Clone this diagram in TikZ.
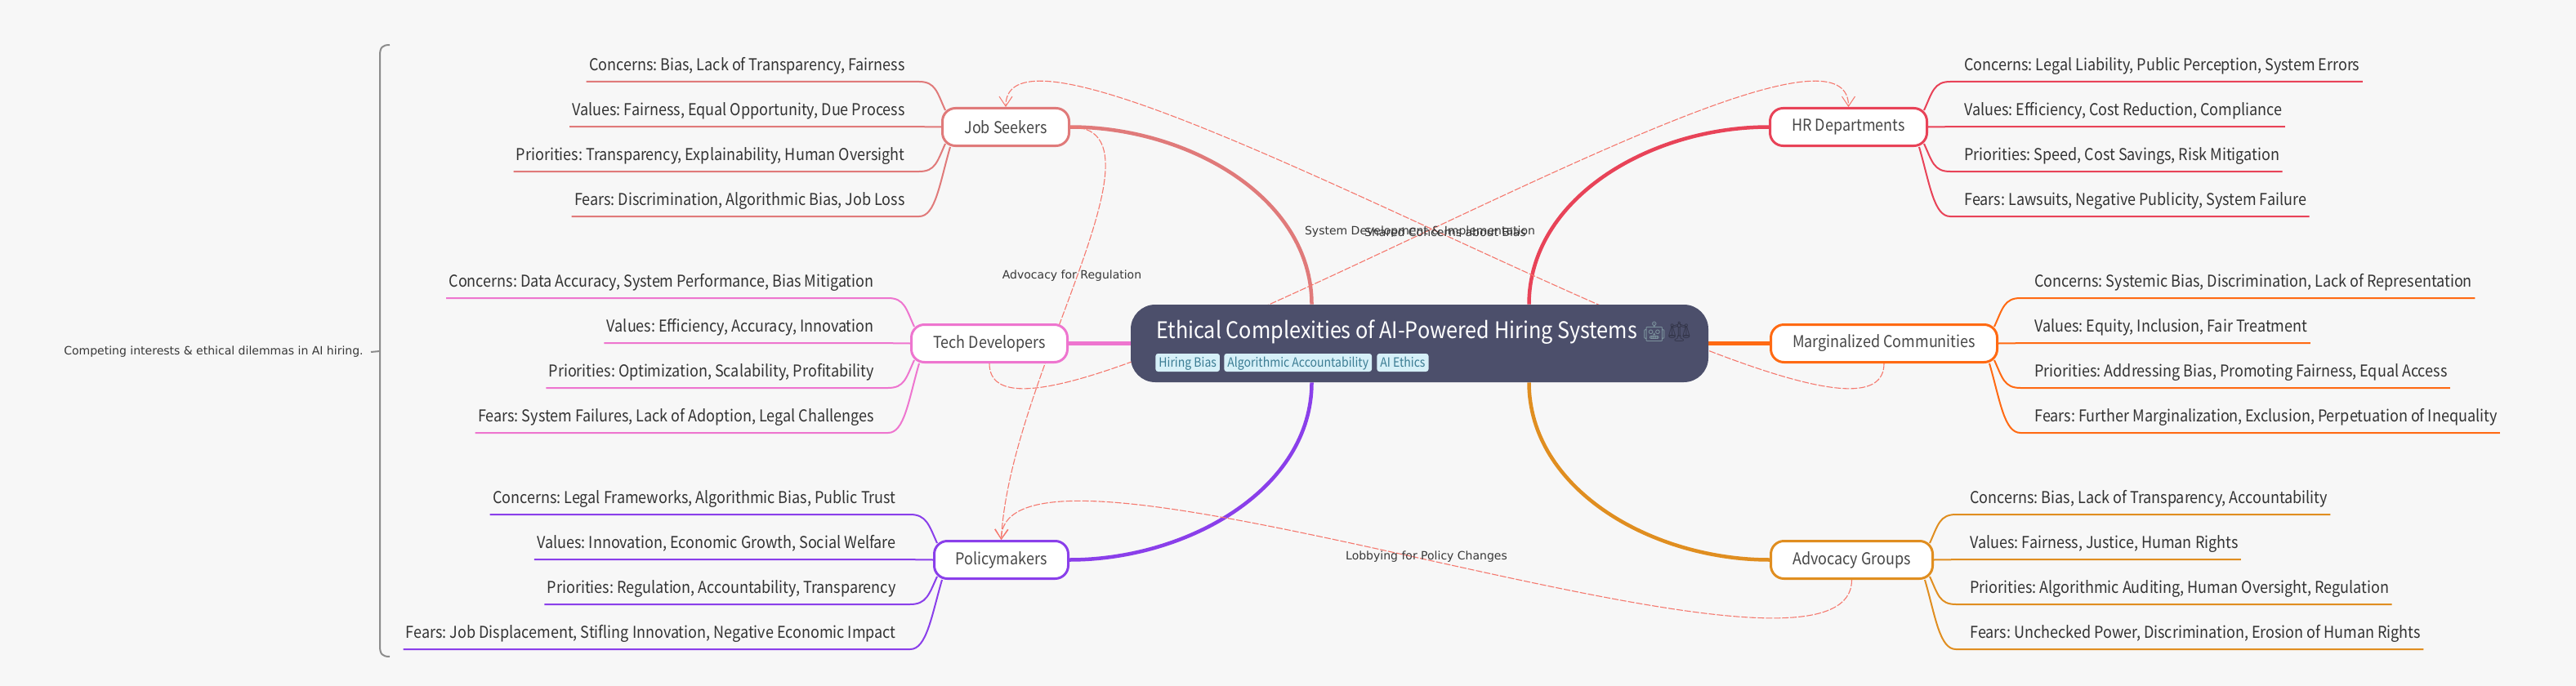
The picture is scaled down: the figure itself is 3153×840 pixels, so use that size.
\documentclass[tikz,border=0pt]{standalone}
\usepackage{fontspec}
\usepackage{xcolor}
\setmainfont[FakeStretch=0.9]{Noto Sans CJK SC}
\newfontfamily\notefont{DejaVu Sans}
\newfontfamily\emojifont{Noto Emoji}
\frenchspacing
\usetikzlibrary{arrows.meta, backgrounds}
\definecolor{pagebg}{HTML}{F7F7F7}
\definecolor{rootbg}{HTML}{4C4F6B}
\definecolor{tagbg}{HTML}{D6F0F8}
\definecolor{tagfg}{HTML}{3B7C93}
\definecolor{linkred}{HTML}{F5786E}
\definecolor{jobcol}{HTML}{E07A7A}
\definecolor{techcol}{HTML}{EE75CF}
\definecolor{policycol}{HTML}{8A3FEA}
\definecolor{hrcol}{HTML}{E84358}
\definecolor{margcol}{HTML}{FF6A13}
\definecolor{advcol}{HTML}{E08E20}
\tikzstyle{rootbox} = [rectangle, rounded corners=15pt, minimum width=353.5pt, minimum height=47.5pt, fill=rootbg]
\tikzstyle{roottext} = [anchor=west, inner sep=0pt, text=white, font=\fontsize{14pt}{16pt}\selectfont]
\tikzstyle{tag} = [anchor=west, rectangle, rounded corners=1.5pt, inner xsep=2pt, inner ysep=2pt, text height=6pt, text depth=1pt, fill=tagbg, text=tagfg, font=\fontsize{7.8pt}{9pt}\selectfont]
\tikzstyle{groupbox} = [rectangle, rounded corners=8pt, minimum height=23pt, line width=1.5pt, fill=white, text=black!72, font=\fontsize{10pt}{12pt}\selectfont]
\tikzstyle{leaf} = [inner ysep=0pt, inner xsep=1.5pt, text height=8pt, text depth=6.5pt, text=black!80, font=\fontsize{10pt}{12pt}\selectfont]
\tikzstyle{leafl} = [leaf, anchor=south east]
\tikzstyle{leafr} = [leaf, anchor=south west]
\tikzstyle{branch} = [line width=2.25pt]
\tikzstyle{twig} = [line width=1pt]
\tikzstyle{link} = [line width=0.55pt, linkred, dash pattern=on 4pt off 1pt]
\tikzstyle{linkarrow} = [link, -{Straight Barb[length=6pt, width=8pt, line width=0.5pt]}]
\tikzstyle{note} = [inner sep=0pt, text=black!78, font=\notefont\fontsize{7pt}{8pt}\selectfont]

\begin{document}
\begin{tikzpicture}[x=0.5pt, y=-0.5pt]
\useasboundingbox (0,0) rectangle (3153,840);

\node (root) [rootbox] at (1737.5,420.5) {};
\node (title) [roottext] at (1415,406.5) {Ethical Complexities of AI-Powered Hiring Systems {\emojifont\fontsize{12pt}{14pt}\selectfont\textcolor[HTML]{7F97A0}{^^^^^^01f916}\textcolor[HTML]{34364A}{^^^^2696}}};
\node (tag1) [tag] at (1414,444) {Hiring Bias};
\node (tag2) [tag] at (1498,444) {Algorithmic Accountability};
\node (tag3) [tag] at (1685,444) {AI Ethics};

\node (job) [groupbox, draw=jobcol, minimum width=77.5pt] at (1231,155.5) {Job Seekers};
\node (tech) [groupbox, draw=techcol, minimum width=95.5pt] at (1211,420.5) {Tech Developers};
\node (policy) [groupbox, draw=policycol, minimum width=82pt] at (1225.5,685.5) {Policymakers};
\node (hr) [groupbox, draw=hrcol, minimum width=96pt] at (2262.5,155.5) {HR Departments};
\node (marg) [groupbox, draw=margcol, minimum width=138.5pt] at (2306,420.5) {Marginalized Communities};
\node (adv) [groupbox, draw=advcol, minimum width=99pt] at (2266.5,685.5) {Advocacy Groups};

\node (job1) [leafl] at (1111,100) {Concerns: Bias, Lack of Transparency, Fairness};
\node (job2) [leafl] at (1111,155) {Values: Fairness, Equal Opportunity, Due Process};
\node (job3) [leafl] at (1111,210) {Priorities: Transparency, Explainability, Human Oversight};
\node (job4) [leafl] at (1111,265) {Fears: Discrimination, Algorithmic Bias, Job Loss};

\node (tech1) [leafl] at (1073,365) {Concerns: Data Accuracy, System Performance, Bias Mitigation};
\node (tech2) [leafl] at (1073,420) {Values: Efficiency, Accuracy, Innovation};
\node (tech3) [leafl] at (1073,475) {Priorities: Optimization, Scalability, Profitability};
\node (tech4) [leafl] at (1073,530) {Fears: System Failures, Lack of Adoption, Legal Challenges};

\node (policy1) [leafl] at (1100,630) {Concerns: Legal Frameworks, Algorithmic Bias, Public Trust};
\node (policy2) [leafl] at (1100,685) {Values: Innovation, Economic Growth, Social Welfare};
\node (policy3) [leafl] at (1100,740) {Priorities: Regulation, Accountability, Transparency};
\node (policy4) [leafl] at (1100,795) {Fears: Job Displacement, Stifling Innovation, Negative Economic Impact};

\node (hr1) [leafr] at (2401,100) {Concerns: Legal Liability, Public Perception, System Errors};
\node (hr2) [leafr] at (2401,155) {Values: Efficiency, Cost Reduction, Compliance};
\node (hr3) [leafr] at (2401,210) {Priorities: Speed, Cost Savings, Risk Mitigation};
\node (hr4) [leafr] at (2401,265) {Fears: Lawsuits, Negative Publicity, System Failure};

\node (marg1) [leafr] at (2487,365) {Concerns: Systemic Bias, Discrimination, Lack of Representation};
\node (marg2) [leafr] at (2487,420) {Values: Equity, Inclusion, Fair Treatment};
\node (marg3) [leafr] at (2487,475) {Priorities: Addressing Bias, Promoting Fairness, Equal Access};
\node (marg4) [leafr] at (2487,530) {Fears: Further Marginalization, Exclusion, Perpetuation of Inequality};

\node (adv1) [leafr] at (2408,630) {Concerns: Bias, Lack of Transparency, Accountability};
\node (adv2) [leafr] at (2408,685) {Values: Fairness, Justice, Human Rights};
\node (adv3) [leafr] at (2408,740) {Priorities: Algorithmic Auditing, Human Oversight, Regulation};
\node (adv4) [leafr] at (2408,795) {Fears: Unchecked Power, Discrimination, Erosion of Human Rights};

\node (sumnote) [note, anchor=east, inner xsep=4.5pt] at (454,431) {Competing interests \& ethical dilemmas in AI hiring.};
\coordinate (bracetop) at (477,55);
\coordinate (bracemid) at (465,430);
\coordinate (bracebot) at (477,804);

\begin{scope}[on background layer]
\fill [pagebg] (0,0) rectangle (3153,840);

\draw [branch, jobcol] (job.east) .. controls +(145,0) and +(0,-130) .. ([xshift=-66pt]root.north);
\draw [branch, techcol] (tech.east) -- (root.west);
\draw [branch, policycol] (policy.east) .. controls +(145,0) and +(0,130) .. ([xshift=-66pt]root.south);
\draw [branch, hrcol] (hr.west) .. controls +(-145,0) and +(0,-130) .. ([xshift=67pt]root.north);
\draw [branch, margcol] (marg.west) -- (root.east);
\draw [branch, advcol] (adv.west) .. controls +(-145,0) and +(0,130) .. ([xshift=67pt]root.south);

\foreach \name/\col in {job/jobcol, tech/techcol, policy/policycol} {
\draw [twig, \col] (\name1.south west) -- (\name1.south east) -- ++(14,0) .. controls +(20,0) and +(-10,-22) .. ([shift={(5,4)}]\name.north west);
\draw [twig, \col] (\name2.south west) -- (\name2.south east) -- (\name.west);
\draw [twig, \col] (\name3.south west) -- (\name3.south east) -- ++(14,0) .. controls +(20,0) and +(-10,22) .. ([shift={(5,-4)}]\name.south west);
\draw [twig, \col] (\name4.south west) -- (\name4.south east) -- ++(14,0) .. controls +(20,0) and +(-13,45) .. ([xshift=5.5pt]\name.south west);
}
\foreach \name/\col in {hr/hrcol, marg/margcol, adv/advcol} {
\draw [twig, \col] (\name1.south east) -- (\name1.south west) -- ++(-14,0) .. controls +(-20,0) and +(10,-22) .. ([shift={(-5,4)}]\name.north east);
\draw [twig, \col] (\name2.south east) -- (\name2.south west) -- (\name.east);
\draw [twig, \col] (\name3.south east) -- (\name3.south west) -- ++(-14,0) .. controls +(-20,0) and +(10,22) .. ([shift={(-5,-4)}]\name.south east);
\draw [twig, \col] (\name4.south east) -- (\name4.south west) -- ++(-14,0) .. controls +(-20,0) and +(13,45) .. ([xshift=-5.5pt]\name.south east);
}

\draw [linkarrow] (marg.south) .. controls +(0,180) and +(0,-180) .. (job.north);
\draw [linkarrow] (tech.south) .. controls +(0,180) and +(0,-180) .. (hr.north);
\draw [linkarrow] (job.east) .. controls +(130,0) and +(10,-200) .. (policy.north);
\draw [linkarrow] (adv.south) .. controls +(0,180) and +(0,-180) .. (policy.north);
\end{scope}

\node (link1) [note] at (1738,284) {System Development \& Implementation};
\node (link2) [note] at (1769,284) {Shared Concerns about Bias};
\node (link3) [note] at (1312,338) {Advocacy for Regulation};
\node (link4) [note] at (1746,682) {Lobbying for Policy Changes};

\draw [line width=1pt, black!45] (sumnote.east) -- (bracemid);
\draw [line width=1pt, black!45] (bracetop) .. controls (468,55) and (465,58) .. (465,68) -- (bracemid) -- (465,791) .. controls (465,801) and (468,804) .. (bracebot);
\end{tikzpicture}
\end{document}
